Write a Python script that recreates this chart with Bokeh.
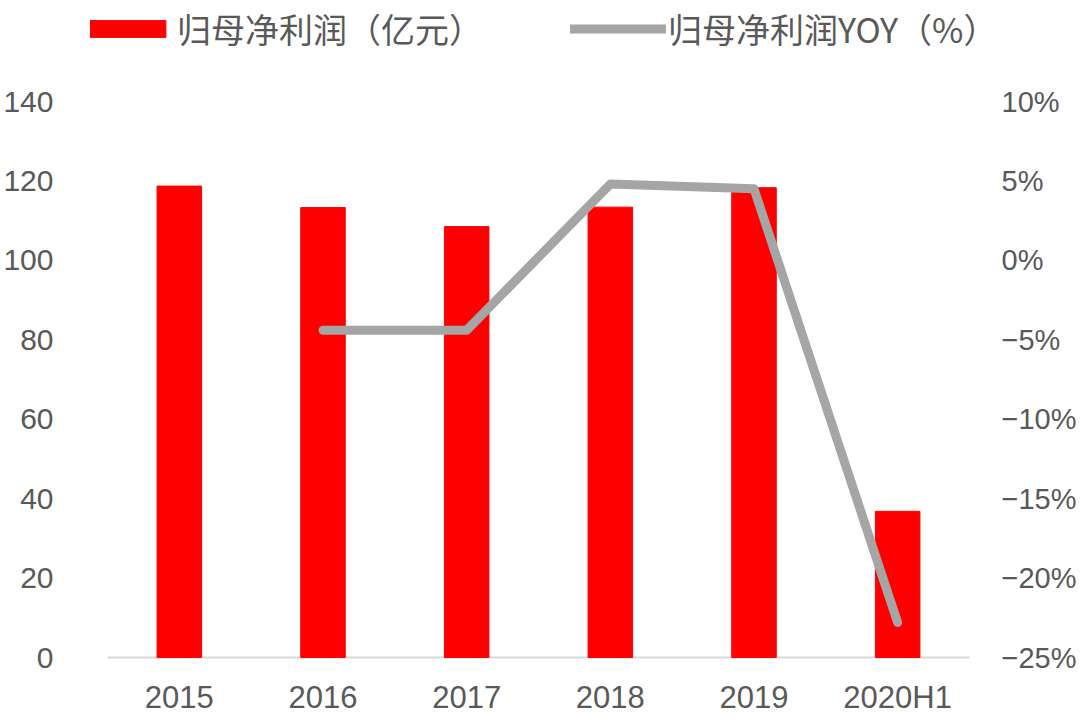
from bokeh.plotting import figure
from bokeh.models import Range1d, LinearAxis, FixedTicker, Legend, LegendItem
from bokeh.embed import file_html
from bokeh.resources import INLINE

# ---- data ----
years = ["2015", "2016", "2017", "2018", "2019", "2020H1"]
profit = [118.7, 113.3, 108.5, 113.4, 118.3, 36.8]          # 归母净利润（亿元）
yoy_years = ["2016", "2017", "2018", "2019", "2020H1"]
yoy = [-4.4, -4.4, 4.8, 4.5, -22.8]                           # 归母净利润YOY（%）
left_ticks = [0, 20, 40, 60, 80, 100, 120, 140]
right_ticks = [-25, -20, -15, -10, -5, 0, 5, 10]
right_labels = ["−25%", "−20%", "−15%", "−10%", "−5%", "0%", "5%", "10%"]

TXT = "#595959"
RED = "#FF0000"
GRAY = "#A5A5A5"

# ---- layout geometry (pixels) ----
CAT_PX = 143.67          # width of one category
LEFT_EXTRA = 17          # frame reaches left of first category (room for legend)
RIGHT_EXTRA = 24         # and right of the last one
FRAME_W = round(CAT_PX * len(years) + LEFT_EXTRA + RIGHT_EXTRA)
TOP_PAD = 101            # 140 / 10% line below frame top
PLOT_H = 556             # 0..140
BOTTOM_PAD = 2           # room for the baseline
FRAME_H = TOP_PAD + PLOT_H + BOTTOM_PAD

xi = list(range(len(years)))
yoy_xi = [years.index(y) for y in yoy_years]

l_per_px = 140 / PLOT_H
r_per_px = 35 / PLOT_H
p = figure(frame_width=FRAME_W, frame_height=FRAME_H,
           x_range=Range1d(-0.5 - LEFT_EXTRA / CAT_PX,
                           len(years) - 0.5 + RIGHT_EXTRA / CAT_PX),
           y_range=Range1d(-BOTTOM_PAD * l_per_px, 140 + TOP_PAD * l_per_px),
           output_backend="svg", toolbar_location=None,
           min_border_left=84, min_border_right=0,
           min_border_top=0, min_border_bottom=0)
p.extra_y_ranges = {"yoy": Range1d(-25 - BOTTOM_PAD * r_per_px,
                                   10 + TOP_PAD * r_per_px)}

p.outline_line_color = None
p.xgrid.grid_line_color = None
p.ygrid.grid_line_color = None
p.background_fill_color = "white"
p.border_fill_color = "white"

# baseline (category axis line)
p.segment(x0=[-0.5], x1=[len(years) - 0.5], y0=[0], y1=[0],
          line_color="#D9D9D9", line_width=2)

bars = p.vbar(x=xi, top=profit, width=0.31, color=RED, line_color=RED)
line = p.line(x=yoy_xi, y=yoy, y_range_name="yoy", line_color=GRAY,
              line_width=9, line_cap="round", line_join="round")

# left axis
ya = p.yaxis[0]
ya.ticker = FixedTicker(ticks=left_ticks)
ya.axis_line_color = None
ya.major_tick_line_color = None
ya.minor_tick_line_color = None
ya.major_label_text_font = "Liberation Sans"
ya.major_label_text_font_size = "30px"
ya.major_label_text_color = TXT
ya.major_label_standoff = 31

# right axis
ra = LinearAxis(y_range_name="yoy", ticker=FixedTicker(ticks=right_ticks),
                major_label_overrides={t: l for t, l in zip(right_ticks, right_labels)})
ra.axis_line_color = None
ra.major_tick_line_color = None
ra.minor_tick_line_color = None
ra.major_label_text_font = "Liberation Sans"
ra.major_label_text_font_size = "29px"
ra.major_label_text_color = TXT
ra.major_label_standoff = 2
p.add_layout(ra, "right")

# bottom axis
xa = p.xaxis[0]
xa.ticker = FixedTicker(ticks=xi)
xa.major_label_overrides = {i: y for i, y in zip(xi, years)}
xa.axis_line_color = None
xa.major_tick_line_color = None
xa.minor_tick_line_color = None
xa.major_label_text_font = "Liberation Sans"
xa.major_label_text_font_size = "31px"
xa.major_label_text_color = TXT
xa.major_label_standoff = 14

legend = Legend(items=[LegendItem(label="归母净利润（亿元）", renderers=[bars]),
                       LegendItem(label="归母净利润YOY（%）", renderers=[line])],
                orientation="horizontal", location=(-11, 606),
                glyph_width=96, glyph_height=21, label_standoff=2, spacing=87,
                padding=0, margin=0, border_line_color=None,
                background_fill_alpha=0,
                label_text_font="Noto Sans CJK SC", label_text_font_size="34px",
                label_text_color=TXT)
p.add_layout(legend, "center")

open("out.html", "w").write(file_html(p, INLINE))
